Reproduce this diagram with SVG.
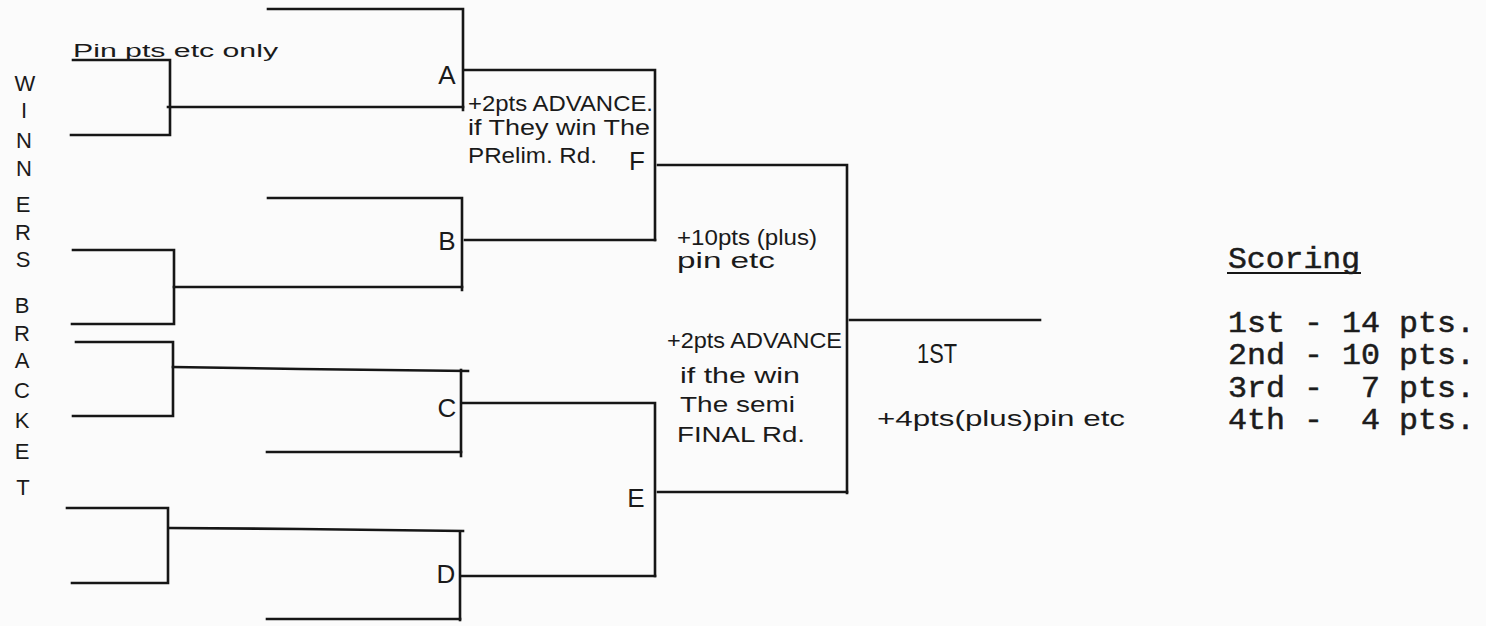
<svg xmlns="http://www.w3.org/2000/svg" width="1486" height="626" viewBox="0 0 1486 626">
<style>
.ln{fill:none;stroke:#161616;stroke-width:2.6;stroke-linecap:square;stroke-linejoin:miter}
.hw{font-family:"Liberation Sans",Arial,sans-serif;fill:#1a1a1a}
.lab{font-family:"Liberation Sans",Arial,sans-serif;fill:#1a1a1a;font-size:26px;text-anchor:middle}
.vt{font-family:"Liberation Sans",Arial,sans-serif;fill:#1a1a1a;font-size:22px;text-anchor:middle}
.tw{font-family:"Liberation Mono","Courier New",monospace;fill:#1c1c1c;stroke:#1c1c1c;stroke-width:0.5;font-size:29px}
</style>
<rect width="1486" height="626" fill="#fbfbfb"/>
<g id="connectors">
  <path class="ln" d="M73,60 H170 V135 H71"/>
  <path class="ln" d="M168,107 H463"/>
  <path class="ln" d="M73,250 H174 V324 H72"/>
  <path class="ln" d="M174,287 H462"/>
  <path class="ln" d="M76,342 H173 V416 H73"/>
  <path class="ln" d="M173,367 L300,369 L468,371"/>
  <path class="ln" d="M67,508 H168 V583 H72"/>
  <path class="ln" d="M170,528 L300,529 L463,531"/>
  <path class="ln" d="M268,9 H463 V110"/>
  <path class="ln" d="M465,70 H655 V240"/>
  <path class="ln" d="M268,198 H462 V290"/>
  <path class="ln" d="M465,240 H655"/>
  <path class="ln" d="M658,165 H847 V493"/>
  <path class="ln" d="M658,492 H847"/>
  <path class="ln" d="M461,370 V456"/>
  <path class="ln" d="M267,452 H461"/>
  <path class="ln" d="M463,403 H655 V576"/>
  <path class="ln" d="M460,532 V620"/>
  <path class="ln" d="M267,619 H460"/>
  <path class="ln" d="M462,576 H655"/>
  <path class="ln" d="M850,320 H1040"/>
  <path class="ln" d="M1228,273 H1360" style="stroke-width:2"/>
</g>
<g id="title-vertical">
  <text class="vt" x="25" y="91">W</text>
  <text class="vt" x="24" y="118">I</text>
  <text class="vt" x="24" y="148">N</text>
  <text class="vt" x="24" y="176">N</text>
  <text class="vt" x="23" y="212">E</text>
  <text class="vt" x="23" y="240">R</text>
  <text class="vt" x="23" y="267">S</text>
  <text class="vt" x="22" y="313">B</text>
  <text class="vt" x="22" y="341">R</text>
  <text class="vt" x="22" y="368">A</text>
  <text class="vt" x="22" y="398">C</text>
  <text class="vt" x="22" y="428">K</text>
  <text class="vt" x="22" y="459">E</text>
  <text class="vt" x="23" y="495">T</text>
</g>
<g id="node-A"><text class="lab" x="447" y="84">A</text></g>
<g id="node-B"><text class="lab" x="447" y="250">B</text></g>
<g id="node-C"><text class="lab" x="447" y="417">C</text></g>
<g id="node-D"><text class="lab" x="446" y="583">D</text></g>
<g id="node-E"><text class="lab" x="636" y="507">E</text></g>
<g id="node-F"><text class="lab" x="637" y="170">F</text></g>
<g id="note-prelim-only"><text class="hw" x="73" y="57" font-size="18" textLength="205" lengthAdjust="spacingAndGlyphs" fill="#3a3a3a">Pin pts etc only</text></g>
<g id="note-prelim">
  <text class="hw" x="468" y="111" font-size="22" textLength="185" lengthAdjust="spacingAndGlyphs">+2pts ADVANCE.</text>
  <text class="hw" x="468" y="135" font-size="22" textLength="182" lengthAdjust="spacingAndGlyphs">if They win The</text>
  <text class="hw" x="468" y="163" font-size="22" textLength="129" lengthAdjust="spacingAndGlyphs">PRelim. Rd.</text>
</g>
<g id="note-final-f">
  <text class="hw" x="677" y="245" font-size="22" textLength="140" lengthAdjust="spacingAndGlyphs">+10pts (plus)</text>
  <text class="hw" x="677" y="268" font-size="22" textLength="98" lengthAdjust="spacingAndGlyphs">pin etc</text>
</g>
<g id="note-semi">
  <text class="hw" x="667" y="348" font-size="22" textLength="175" lengthAdjust="spacingAndGlyphs">+2pts ADVANCE</text>
  <text class="hw" x="680" y="383" font-size="22" textLength="120" lengthAdjust="spacingAndGlyphs">if the win</text>
  <text class="hw" x="680" y="412" font-size="22" textLength="115" lengthAdjust="spacingAndGlyphs">The semi</text>
  <text class="hw" x="677" y="442" font-size="22" textLength="128" lengthAdjust="spacingAndGlyphs">FINAL Rd.</text>
</g>
<g id="node-1st">
  <text class="hw" x="917" y="363" font-size="27" textLength="40" lengthAdjust="spacingAndGlyphs">1ST</text>
  <text class="hw" x="877" y="426" font-size="22" textLength="248" lengthAdjust="spacingAndGlyphs">+4pts(plus)pin etc</text>
</g>
<g id="scoring">
  <text class="tw" x="1228" y="268" textLength="132" lengthAdjust="spacingAndGlyphs">Scoring</text>
  <text class="tw" x="1228" y="332" xml:space="preserve" textLength="247" lengthAdjust="spacingAndGlyphs">1st - 14 pts.</text>
  <text class="tw" x="1228" y="364" xml:space="preserve" textLength="247" lengthAdjust="spacingAndGlyphs">2nd - 10 pts.</text>
  <text class="tw" x="1228" y="397" xml:space="preserve" textLength="247" lengthAdjust="spacingAndGlyphs">3rd -  7 pts.</text>
  <text class="tw" x="1228" y="429" xml:space="preserve" textLength="247" lengthAdjust="spacingAndGlyphs">4th -  4 pts.</text>
</g>
</svg>
